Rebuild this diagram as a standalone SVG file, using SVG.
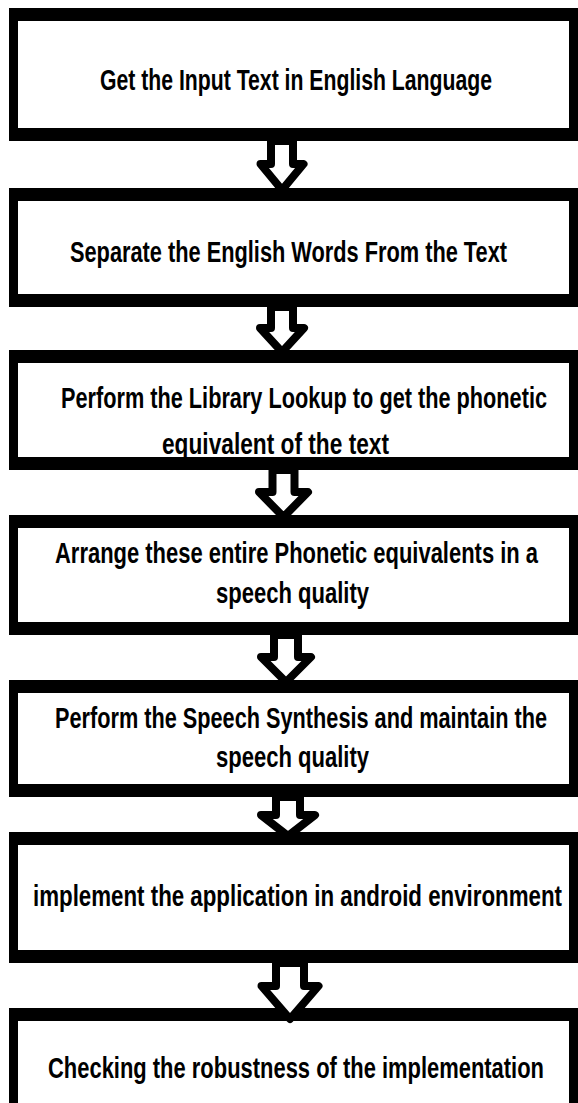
<svg xmlns="http://www.w3.org/2000/svg" width="578" height="1103" viewBox="0 0 578 1103">
  <defs>
    <style>
      .frame { fill: #000; }
      .inner { fill: #fff; }
      .label { font-family: "Liberation Sans Narrow", "Liberation Sans", Arial, sans-serif; font-weight: bold; font-size: 21px; fill: #000; }
      .flow { fill: #fff; stroke: #000; stroke-width: 8; stroke-linejoin: round; }
    </style>
  </defs>
  <rect width="578" height="1103" fill="#fff"/>

  <!-- process boxes: black frame with white interior (top/bottom edges thicker than sides) -->
  <g id="step1">
    <rect class="frame" x="9" y="8" width="580" height="133"/>
    <rect class="inner" x="18" y="21" width="551" height="107"/>
    <text class="label" transform="translate(100 90) scale(1 1.44)" textLength="392" lengthAdjust="spacingAndGlyphs">Get the Input Text in English Language</text>
  </g>
  <g id="step2">
    <rect class="frame" x="9" y="188" width="580" height="119"/>
    <rect class="inner" x="18" y="201" width="551" height="93"/>
    <text class="label" transform="translate(70 262) scale(1 1.44)" textLength="437" lengthAdjust="spacingAndGlyphs">Separate the English Words From the Text</text>
  </g>
  <g id="step3">
    <rect class="frame" x="9" y="350" width="580" height="120"/>
    <rect class="inner" x="18" y="363" width="551" height="94"/>
    <text class="label" transform="translate(61 408) scale(1 1.44)" textLength="486" lengthAdjust="spacingAndGlyphs">Perform the Library Lookup to get the phonetic</text>
    <text class="label" transform="translate(162 454) scale(1 1.44)" textLength="227" lengthAdjust="spacingAndGlyphs">equivalent of the text</text>
  </g>
  <g id="step4">
    <rect class="frame" x="9" y="515" width="580" height="120"/>
    <rect class="inner" x="18" y="528" width="551" height="94"/>
    <text class="label" transform="translate(55 563) scale(1 1.44)" textLength="483" lengthAdjust="spacingAndGlyphs">Arrange these entire Phonetic equivalents in a</text>
    <text class="label" transform="translate(216 603) scale(1 1.44)" textLength="153" lengthAdjust="spacingAndGlyphs">speech quality</text>
  </g>
  <g id="step5">
    <rect class="frame" x="9" y="680" width="580" height="117"/>
    <rect class="inner" x="18" y="693" width="551" height="91"/>
    <text class="label" transform="translate(55 728) scale(1 1.44)" textLength="492" lengthAdjust="spacingAndGlyphs">Perform the Speech Synthesis and maintain the</text>
    <text class="label" transform="translate(216 767) scale(1 1.44)" textLength="153" lengthAdjust="spacingAndGlyphs">speech quality</text>
  </g>
  <g id="step6">
    <rect class="frame" x="9" y="832" width="580" height="131"/>
    <rect class="inner" x="18" y="845" width="551" height="105"/>
    <text class="label" transform="translate(33 906) scale(1 1.44)" textLength="529" lengthAdjust="spacingAndGlyphs">implement the application in android environment</text>
  </g>
  <g id="step7">
    <rect class="frame" x="9" y="1008" width="580" height="120"/>
    <rect class="inner" x="18" y="1021" width="551" height="94"/>
    <text class="label" transform="translate(48 1078) scale(1 1.44)" textLength="496" lengthAdjust="spacingAndGlyphs">Checking the robustness of the implementation</text>
  </g>

  <!-- hollow block arrows between steps -->
  <g id="connectors">
    <path class="flow" d="M271 141 V164 H260.5 L282 190 L303.5 164 H293 V141 Z"/>
    <path class="flow" d="M271 307 V328 H260 L282 352 L304 328 H293 V307 Z"/>
    <path class="flow" d="M272.5 470 V492 H259 L283.5 517 L308 492 H294.5 V470 Z"/>
    <path class="flow" d="M274 635 V657 H261 L286 682 L311 657 H298 V635 Z"/>
    <path class="flow" d="M276 797 V815 H261 L288 836 L315 815 H300 V797 Z"/>
    <path class="flow" d="M276 963 V986 H261.5 L290 1019 L318.5 986 H304 V963 Z"/>
  </g>
</svg>
